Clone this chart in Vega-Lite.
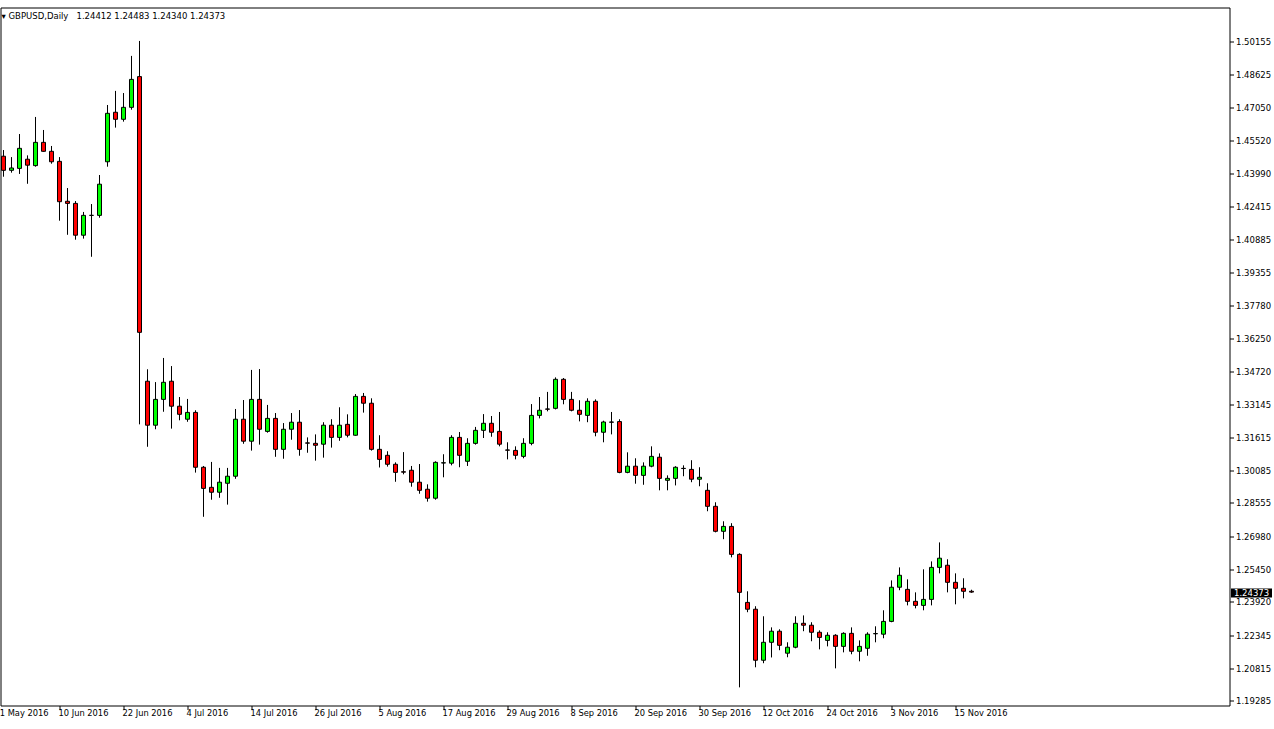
{
  "$schema": "https://vega.github.io/schema/vega-lite/v6.json",
  "autosize": {"type": "none"},
  "padding": {"left": 0.5, "top": 7.5, "right": 44.5, "bottom": 23.5},
  "width": 1229,
  "height": 698,
  "background": "#ffffff",
  "title": {
    "text": "▾ GBPUSD,Daily\u00a0\u00a0 1.24412 1.24483 1.24340 1.24373",
    "anchor": "start",
    "frame": "group",
    "orient": "top",
    "offset": -8,
    "baseline": "middle",
    "dx": 1,
    "dy": 8.5,
    "font": "DejaVu Sans",
    "fontSize": 8.5,
    "fontWeight": "normal",
    "color": "#000000"
  },
  "data": {
    "values": [
      {"d": "1 Jun 2016", "o": 1.4479, "h": 1.4508, "l": 1.4383, "c": 1.4413},
      {"d": "2 Jun 2016", "o": 1.4413, "h": 1.4475, "l": 1.4402, "c": 1.4424},
      {"d": "3 Jun 2016", "o": 1.4422, "h": 1.4583, "l": 1.4396, "c": 1.4516},
      {"d": "6 Jun 2016", "o": 1.4465, "h": 1.4483, "l": 1.4350, "c": 1.4437},
      {"d": "7 Jun 2016", "o": 1.4435, "h": 1.4663, "l": 1.4430, "c": 1.4544},
      {"d": "8 Jun 2016", "o": 1.4544, "h": 1.4602, "l": 1.4500, "c": 1.4502},
      {"d": "9 Jun 2016", "o": 1.4502, "h": 1.4527, "l": 1.4444, "c": 1.4453},
      {"d": "10 Jun 2016", "o": 1.4455, "h": 1.4475, "l": 1.4177, "c": 1.4266},
      {"d": "13 Jun 2016", "o": 1.4268, "h": 1.4330, "l": 1.4111, "c": 1.4258},
      {"d": "14 Jun 2016", "o": 1.4258, "h": 1.4269, "l": 1.4088, "c": 1.4109},
      {"d": "15 Jun 2016", "o": 1.4109, "h": 1.4218, "l": 1.4093, "c": 1.4202},
      {"d": "16 Jun 2016", "o": 1.4202, "h": 1.4255, "l": 1.4008, "c": 1.4202},
      {"d": "17 Jun 2016", "o": 1.4202, "h": 1.4391, "l": 1.4191, "c": 1.4348},
      {"d": "20 Jun 2016", "o": 1.4453, "h": 1.4719, "l": 1.4430, "c": 1.4680},
      {"d": "21 Jun 2016", "o": 1.4685, "h": 1.4785, "l": 1.4613, "c": 1.4652},
      {"d": "22 Jun 2016", "o": 1.4652, "h": 1.4775, "l": 1.4641, "c": 1.4708},
      {"d": "23 Jun 2016", "o": 1.4708, "h": 1.4949, "l": 1.4697, "c": 1.4839},
      {"d": "24 Jun 2016", "o": 1.4852, "h": 1.5019, "l": 1.3223, "c": 1.3654},
      {"d": "27 Jun 2016", "o": 1.3425, "h": 1.3481, "l": 1.3118, "c": 1.3219},
      {"d": "28 Jun 2016", "o": 1.3219, "h": 1.3421, "l": 1.3200, "c": 1.3340},
      {"d": "29 Jun 2016", "o": 1.3340, "h": 1.3534, "l": 1.3282, "c": 1.3420},
      {"d": "30 Jun 2016", "o": 1.3425, "h": 1.3496, "l": 1.3203, "c": 1.3308},
      {"d": "1 Jul 2016", "o": 1.3308, "h": 1.3351, "l": 1.3242, "c": 1.3270},
      {"d": "4 Jul 2016", "o": 1.3247, "h": 1.3342, "l": 1.3235, "c": 1.3279},
      {"d": "5 Jul 2016", "o": 1.3279, "h": 1.3289, "l": 1.2997, "c": 1.3022},
      {"d": "6 Jul 2016", "o": 1.3022, "h": 1.3028, "l": 1.2790, "c": 1.2923},
      {"d": "7 Jul 2016", "o": 1.2928, "h": 1.3047, "l": 1.2870, "c": 1.2905},
      {"d": "8 Jul 2016", "o": 1.2905, "h": 1.3019, "l": 1.2879, "c": 1.2952},
      {"d": "11 Jul 2016", "o": 1.2947, "h": 1.3019, "l": 1.2847, "c": 1.2980},
      {"d": "12 Jul 2016", "o": 1.2980, "h": 1.3295, "l": 1.2968, "c": 1.3247},
      {"d": "13 Jul 2016", "o": 1.3247, "h": 1.3337, "l": 1.3132, "c": 1.3144},
      {"d": "14 Jul 2016", "o": 1.3144, "h": 1.3478, "l": 1.3100, "c": 1.3340},
      {"d": "15 Jul 2016", "o": 1.3340, "h": 1.3482, "l": 1.3128, "c": 1.3200},
      {"d": "18 Jul 2016", "o": 1.3190, "h": 1.3314, "l": 1.3184, "c": 1.3251},
      {"d": "19 Jul 2016", "o": 1.3251, "h": 1.3276, "l": 1.3071, "c": 1.3106},
      {"d": "20 Jul 2016", "o": 1.3106, "h": 1.3229, "l": 1.3062, "c": 1.3200},
      {"d": "21 Jul 2016", "o": 1.3200, "h": 1.3276, "l": 1.3151, "c": 1.3233},
      {"d": "22 Jul 2016", "o": 1.3233, "h": 1.3290, "l": 1.3076, "c": 1.3106},
      {"d": "25 Jul 2016", "o": 1.3136, "h": 1.3162, "l": 1.3090, "c": 1.3135},
      {"d": "26 Jul 2016", "o": 1.3134, "h": 1.3176, "l": 1.3053, "c": 1.3125},
      {"d": "27 Jul 2016", "o": 1.3130, "h": 1.3233, "l": 1.3067, "c": 1.3219},
      {"d": "28 Jul 2016", "o": 1.3219, "h": 1.3247, "l": 1.3114, "c": 1.3162},
      {"d": "29 Jul 2016", "o": 1.3162, "h": 1.3303, "l": 1.3146, "c": 1.3219},
      {"d": "1 Aug 2016", "o": 1.3223, "h": 1.3270, "l": 1.3162, "c": 1.3172},
      {"d": "2 Aug 2016", "o": 1.3172, "h": 1.3365, "l": 1.3170, "c": 1.3354},
      {"d": "3 Aug 2016", "o": 1.3354, "h": 1.3370, "l": 1.3278, "c": 1.3322},
      {"d": "4 Aug 2016", "o": 1.3322, "h": 1.3345, "l": 1.3100, "c": 1.3106},
      {"d": "5 Aug 2016", "o": 1.3106, "h": 1.3172, "l": 1.3021, "c": 1.3059},
      {"d": "8 Aug 2016", "o": 1.3078, "h": 1.3097, "l": 1.3025, "c": 1.3036},
      {"d": "9 Aug 2016", "o": 1.3036, "h": 1.3045, "l": 1.2954, "c": 1.2998},
      {"d": "10 Aug 2016", "o": 1.3001, "h": 1.3093, "l": 1.2989, "c": 1.2999},
      {"d": "11 Aug 2016", "o": 1.3008, "h": 1.3028, "l": 1.2931, "c": 1.2952},
      {"d": "12 Aug 2016", "o": 1.2952, "h": 1.3037, "l": 1.2898, "c": 1.2914},
      {"d": "15 Aug 2016", "o": 1.2919, "h": 1.2942, "l": 1.2861, "c": 1.2877},
      {"d": "16 Aug 2016", "o": 1.2877, "h": 1.3050, "l": 1.2870, "c": 1.3045},
      {"d": "17 Aug 2016", "o": 1.3042, "h": 1.3083, "l": 1.2975, "c": 1.3043},
      {"d": "18 Aug 2016", "o": 1.3041, "h": 1.3172, "l": 1.3031, "c": 1.3162},
      {"d": "19 Aug 2016", "o": 1.3162, "h": 1.3187, "l": 1.3022, "c": 1.3078},
      {"d": "22 Aug 2016", "o": 1.3050, "h": 1.3158, "l": 1.3028, "c": 1.3134},
      {"d": "23 Aug 2016", "o": 1.3134, "h": 1.3211, "l": 1.3128, "c": 1.3195},
      {"d": "24 Aug 2016", "o": 1.3195, "h": 1.3271, "l": 1.3159, "c": 1.3228},
      {"d": "25 Aug 2016", "o": 1.3228, "h": 1.3262, "l": 1.3165, "c": 1.3186},
      {"d": "26 Aug 2016", "o": 1.3190, "h": 1.3281, "l": 1.3120, "c": 1.3130},
      {"d": "29 Aug 2016", "o": 1.3103, "h": 1.3139, "l": 1.3059, "c": 1.3102},
      {"d": "30 Aug 2016", "o": 1.3101, "h": 1.3120, "l": 1.3059, "c": 1.3078},
      {"d": "31 Aug 2016", "o": 1.3073, "h": 1.3158, "l": 1.3064, "c": 1.3134},
      {"d": "1 Sep 2016", "o": 1.3134, "h": 1.3318, "l": 1.3125, "c": 1.3265},
      {"d": "2 Sep 2016", "o": 1.3265, "h": 1.3351, "l": 1.3251, "c": 1.3289},
      {"d": "5 Sep 2016", "o": 1.3295, "h": 1.3375, "l": 1.3284, "c": 1.3294},
      {"d": "6 Sep 2016", "o": 1.3298, "h": 1.3443, "l": 1.3293, "c": 1.3434},
      {"d": "7 Sep 2016", "o": 1.3434, "h": 1.3440, "l": 1.3317, "c": 1.3340},
      {"d": "8 Sep 2016", "o": 1.3340, "h": 1.3375, "l": 1.3284, "c": 1.3289},
      {"d": "9 Sep 2016", "o": 1.3289, "h": 1.3336, "l": 1.3237, "c": 1.3270},
      {"d": "12 Sep 2016", "o": 1.3265, "h": 1.3345, "l": 1.3233, "c": 1.3331},
      {"d": "13 Sep 2016", "o": 1.3331, "h": 1.3340, "l": 1.3167, "c": 1.3186},
      {"d": "14 Sep 2016", "o": 1.3186, "h": 1.3240, "l": 1.3139, "c": 1.3234},
      {"d": "15 Sep 2016", "o": 1.3234, "h": 1.3281, "l": 1.3176, "c": 1.3233},
      {"d": "16 Sep 2016", "o": 1.3236, "h": 1.3247, "l": 1.2994, "c": 1.2998},
      {"d": "19 Sep 2016", "o": 1.2998, "h": 1.3092, "l": 1.2994, "c": 1.3027},
      {"d": "20 Sep 2016", "o": 1.3027, "h": 1.3064, "l": 1.2945, "c": 1.2984},
      {"d": "21 Sep 2016", "o": 1.2984, "h": 1.3045, "l": 1.2940, "c": 1.3027},
      {"d": "22 Sep 2016", "o": 1.3027, "h": 1.3120, "l": 1.3022, "c": 1.3073},
      {"d": "23 Sep 2016", "o": 1.3069, "h": 1.3087, "l": 1.2914, "c": 1.2970},
      {"d": "26 Sep 2016", "o": 1.2961, "h": 1.2984, "l": 1.2914, "c": 1.2970},
      {"d": "27 Sep 2016", "o": 1.2970, "h": 1.3027, "l": 1.2937, "c": 1.3022},
      {"d": "28 Sep 2016", "o": 1.3017, "h": 1.3031, "l": 1.2980, "c": 1.3016},
      {"d": "29 Sep 2016", "o": 1.3012, "h": 1.3055, "l": 1.2952, "c": 1.2966},
      {"d": "30 Sep 2016", "o": 1.2966, "h": 1.3022, "l": 1.2933, "c": 1.2975},
      {"d": "3 Oct 2016", "o": 1.2914, "h": 1.2947, "l": 1.2816, "c": 1.2839},
      {"d": "4 Oct 2016", "o": 1.2839, "h": 1.2858, "l": 1.2717, "c": 1.2722},
      {"d": "5 Oct 2016", "o": 1.2722, "h": 1.2769, "l": 1.2685, "c": 1.2745},
      {"d": "6 Oct 2016", "o": 1.2745, "h": 1.2760, "l": 1.2600, "c": 1.2614},
      {"d": "7 Oct 2016", "o": 1.2614, "h": 1.2619, "l": 1.1991, "c": 1.2436},
      {"d": "10 Oct 2016", "o": 1.2389, "h": 1.2441, "l": 1.2343, "c": 1.2357},
      {"d": "11 Oct 2016", "o": 1.2357, "h": 1.2371, "l": 1.2085, "c": 1.2118},
      {"d": "12 Oct 2016", "o": 1.2118, "h": 1.2324, "l": 1.2104, "c": 1.2202},
      {"d": "13 Oct 2016", "o": 1.2202, "h": 1.2272, "l": 1.2131, "c": 1.2254},
      {"d": "14 Oct 2016", "o": 1.2254, "h": 1.2263, "l": 1.2165, "c": 1.2188},
      {"d": "17 Oct 2016", "o": 1.2151, "h": 1.2202, "l": 1.2132, "c": 1.2179},
      {"d": "18 Oct 2016", "o": 1.2179, "h": 1.2324, "l": 1.2174, "c": 1.2291},
      {"d": "19 Oct 2016", "o": 1.2291, "h": 1.2328, "l": 1.2254, "c": 1.2282},
      {"d": "20 Oct 2016", "o": 1.2282, "h": 1.2296, "l": 1.2207, "c": 1.2249},
      {"d": "21 Oct 2016", "o": 1.2249, "h": 1.2258, "l": 1.2169, "c": 1.2225},
      {"d": "24 Oct 2016", "o": 1.2211, "h": 1.2249, "l": 1.2183, "c": 1.2235},
      {"d": "25 Oct 2016", "o": 1.2235, "h": 1.2240, "l": 1.2080, "c": 1.2183},
      {"d": "26 Oct 2016", "o": 1.2183, "h": 1.2249, "l": 1.2155, "c": 1.2244},
      {"d": "27 Oct 2016", "o": 1.2244, "h": 1.2272, "l": 1.2146, "c": 1.2160},
      {"d": "28 Oct 2016", "o": 1.2160, "h": 1.2211, "l": 1.2113, "c": 1.2183},
      {"d": "31 Oct 2016", "o": 1.2174, "h": 1.2249, "l": 1.2139, "c": 1.2240},
      {"d": "1 Nov 2016", "o": 1.2242, "h": 1.2277, "l": 1.2202, "c": 1.2243},
      {"d": "2 Nov 2016", "o": 1.2240, "h": 1.2352, "l": 1.2221, "c": 1.2300},
      {"d": "3 Nov 2016", "o": 1.2300, "h": 1.2492, "l": 1.2296, "c": 1.2460},
      {"d": "4 Nov 2016", "o": 1.2460, "h": 1.2553, "l": 1.2446, "c": 1.2516},
      {"d": "7 Nov 2016", "o": 1.2450, "h": 1.2497, "l": 1.2375, "c": 1.2394},
      {"d": "8 Nov 2016", "o": 1.2394, "h": 1.2436, "l": 1.2361, "c": 1.2375},
      {"d": "9 Nov 2016", "o": 1.2375, "h": 1.2544, "l": 1.2352, "c": 1.2403},
      {"d": "10 Nov 2016", "o": 1.2403, "h": 1.2581, "l": 1.2375, "c": 1.2553},
      {"d": "11 Nov 2016", "o": 1.2553, "h": 1.2670, "l": 1.2525, "c": 1.2596},
      {"d": "14 Nov 2016", "o": 1.2563, "h": 1.2591, "l": 1.2436, "c": 1.2483},
      {"d": "15 Nov 2016", "o": 1.2483, "h": 1.2525, "l": 1.2380, "c": 1.2455},
      {"d": "16 Nov 2016", "o": 1.2455, "h": 1.2502, "l": 1.2408, "c": 1.2441},
      {"d": "17 Nov 2016", "o": 1.24412, "h": 1.24483, "l": 1.24340, "c": 1.24373}
    ]
  },
  "encoding": {
    "x": {
      "field": "d",
      "type": "ordinal",
      "scale": {
        "type": "band",
        "domain": ["31 May 2016", "1 Jun 2016", "2 Jun 2016", "3 Jun 2016", "6 Jun 2016", "7 Jun 2016", "8 Jun 2016", "9 Jun 2016", "10 Jun 2016", "13 Jun 2016", "14 Jun 2016", "15 Jun 2016", "16 Jun 2016", "17 Jun 2016", "20 Jun 2016", "21 Jun 2016", "22 Jun 2016", "23 Jun 2016", "24 Jun 2016", "27 Jun 2016", "28 Jun 2016", "29 Jun 2016", "30 Jun 2016", "1 Jul 2016", "4 Jul 2016", "5 Jul 2016", "6 Jul 2016", "7 Jul 2016", "8 Jul 2016", "11 Jul 2016", "12 Jul 2016", "13 Jul 2016", "14 Jul 2016", "15 Jul 2016", "18 Jul 2016", "19 Jul 2016", "20 Jul 2016", "21 Jul 2016", "22 Jul 2016", "25 Jul 2016", "26 Jul 2016", "27 Jul 2016", "28 Jul 2016", "29 Jul 2016", "1 Aug 2016", "2 Aug 2016", "3 Aug 2016", "4 Aug 2016", "5 Aug 2016", "8 Aug 2016", "9 Aug 2016", "10 Aug 2016", "11 Aug 2016", "12 Aug 2016", "15 Aug 2016", "16 Aug 2016", "17 Aug 2016", "18 Aug 2016", "19 Aug 2016", "22 Aug 2016", "23 Aug 2016", "24 Aug 2016", "25 Aug 2016", "26 Aug 2016", "29 Aug 2016", "30 Aug 2016", "31 Aug 2016", "1 Sep 2016", "2 Sep 2016", "5 Sep 2016", "6 Sep 2016", "7 Sep 2016", "8 Sep 2016", "9 Sep 2016", "12 Sep 2016", "13 Sep 2016", "14 Sep 2016", "15 Sep 2016", "16 Sep 2016", "19 Sep 2016", "20 Sep 2016", "21 Sep 2016", "22 Sep 2016", "23 Sep 2016", "26 Sep 2016", "27 Sep 2016", "28 Sep 2016", "29 Sep 2016", "30 Sep 2016", "3 Oct 2016", "4 Oct 2016", "5 Oct 2016", "6 Oct 2016", "7 Oct 2016", "10 Oct 2016", "11 Oct 2016", "12 Oct 2016", "13 Oct 2016", "14 Oct 2016", "17 Oct 2016", "18 Oct 2016", "19 Oct 2016", "20 Oct 2016", "21 Oct 2016", "24 Oct 2016", "25 Oct 2016", "26 Oct 2016", "27 Oct 2016", "28 Oct 2016", "31 Oct 2016", "1 Nov 2016", "2 Nov 2016", "3 Nov 2016", "4 Nov 2016", "7 Nov 2016", "8 Nov 2016", "9 Nov 2016", "10 Nov 2016", "11 Nov 2016", "14 Nov 2016", "15 Nov 2016", "16 Nov 2016", "17 Nov 2016"],
        "range": [-9, 975],
        "paddingInner": 0,
        "paddingOuter": 0
      },
      "axis": {
        "values": ["31 May 2016", "10 Jun 2016", "22 Jun 2016", "4 Jul 2016", "14 Jul 2016", "26 Jul 2016", "5 Aug 2016", "17 Aug 2016", "29 Aug 2016", "8 Sep 2016", "20 Sep 2016", "30 Sep 2016", "12 Oct 2016", "24 Oct 2016", "3 Nov 2016", "15 Nov 2016"],
        "title": null,
        "domain": false,
        "grid": false,
        "labelAngle": 0,
        "labelAlign": "left",
        "labelBaseline": "top",
        "labelOffset": -1,
        "labelPadding": -1,
        "tickSize": 4,
        "tickColor": "#000000",
        "tickWidth": 1,
        "labelFont": "DejaVu Sans",
        "labelFontSize": 8.3,
        "labelColor": "#000000",
        "labelOverlap": false,
        "labelBound": false,
        "labelFlush": false
      }
    }
  },
  "layer": [
    {
      "mark": {"type": "rule", "color": "#000000", "strokeWidth": 1},
      "encoding": {
        "y": {
          "field": "l",
          "type": "quantitative",
          "scale": {"domain": [1.1906, 1.51757], "nice": false, "zero": false},
          "axis": {
            "orient": "right",
            "values": [1.50155, 1.48625, 1.4705, 1.4552, 1.4399, 1.42415, 1.40885, 1.39355, 1.3778, 1.3625, 1.3472, 1.33145, 1.31615, 1.30085, 1.28555, 1.2698, 1.2545, 1.2392, 1.22345, 1.20815, 1.19285],
            "format": ".5f",
            "title": null,
            "domain": false,
            "grid": false,
            "tickColor": "#000000",
            "tickSize": 4,
            "tickWidth": 1,
            "labelColor": "#000000",
            "labelPadding": 2,
            "labelAlign": "left",
            "labelBaseline": "middle",
            "labelFont": "DejaVu Sans",
            "labelFontSize": 8.5,
            "labelOverlap": false,
            "labelBound": false,
            "labelFlush": false
          }
        },
        "y2": {"field": "h"}
      }
    },
    {
      "mark": {"type": "bar", "width": 4, "stroke": "#000000", "strokeWidth": 1},
      "encoding": {
        "y": {
          "field": "o",
          "type": "quantitative",
          "axis": {
            "orient": "right",
            "values": [1.24373],
            "format": ".5f",
            "title": null,
            "domain": false,
            "grid": false,
            "offset": 1,
            "tickColor": "#000000",
            "tickSize": 41,
            "tickWidth": 9,
            "labelColor": "#ffffff",
            "labelPadding": -38,
            "labelAlign": "left",
            "labelBaseline": "middle",
            "labelFont": "DejaVu Sans",
            "labelFontSize": 8.5,
            "labelOverlap": false,
            "labelBound": false,
            "labelFlush": false
          }
        },
        "y2": {"field": "c"},
        "fill": {"condition": {"test": "datum.c > datum.o", "value": "#00ff00"}, "value": "#ff0000"}
      }
    }
  ],
  "resolve": {"axis": {"y": "independent"}},
  "config": {
    "view": {"stroke": "#000000", "strokeWidth": 1}
  }
}
